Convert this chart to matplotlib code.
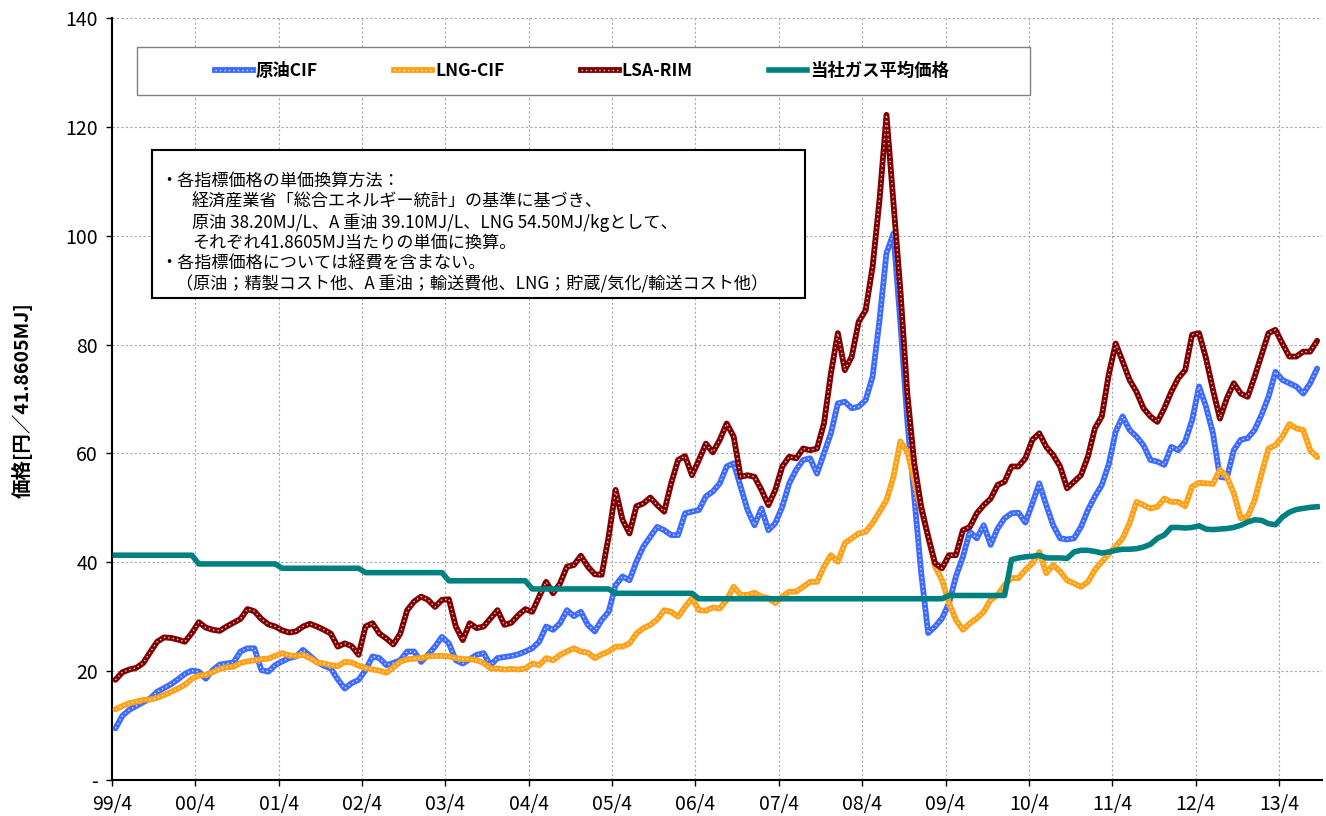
import matplotlib
matplotlib.use('Agg')
import matplotlib.pyplot as plt
from matplotlib.lines import Line2D
from matplotlib.patches import Rectangle

plt.rcParams['font.family'] = ['Noto Sans CJK JP', 'DejaVu Sans']

W, H = 1326, 816

# 月次データ 1999/4 ～ 2013/9
crude = [9.5, 11.8, 12.9, 13.6, 14.3, 15.0, 16.2, 16.9, 17.6, 18.5,
         19.5, 20.1, 19.9, 18.6, 20.2, 21.2, 21.4, 21.6, 23.6, 24.2,
         24.2, 20.2, 19.9, 21.1, 21.8, 22.4, 22.7, 23.9, 22.8, 21.7,
         21.0, 20.5, 18.5, 16.8, 17.8, 18.4, 20.2, 22.7, 22.4, 21.1,
         21.5, 22.0, 23.6, 23.6, 21.7, 23.0, 24.5, 26.3, 25.1, 22.0,
         21.4, 22.2, 23.0, 23.3, 21.1, 22.4, 22.6, 22.8, 23.1, 23.6,
         24.2, 25.4, 28.2, 27.6, 28.8, 31.2, 30.1, 30.9, 28.5, 27.3,
         29.4, 30.9, 35.8, 37.4, 36.7, 40.1, 42.9, 44.7, 46.5, 45.9,
         45.0, 45.0, 49.0, 49.3, 49.6, 52.1, 53.0, 54.5, 57.6, 58.2,
         53.9, 49.6, 46.8, 49.9, 45.9, 47.2, 50.2, 54.5, 57.0, 58.8,
         59.1, 56.3, 60.0, 63.7, 69.2, 69.5, 68.3, 68.6, 69.8, 74.1,
         84.5, 96.8, 100.4, 84.0, 66.0, 52.0, 38.0, 27.0, 28.2, 29.7,
         32.5, 37.4, 41.0, 45.6, 44.4, 46.8, 43.2, 46.2, 48.1, 49.0,
         49.1, 47.3, 50.8, 54.5, 50.5, 46.8, 44.4, 44.2, 44.4, 46.5,
         49.6, 52.1, 54.2, 58.0, 64.0, 66.8, 64.3, 63.1, 61.5, 58.8,
         58.5, 57.9, 61.2, 60.6, 62.2, 66.1, 72.3, 68.6, 63.7, 55.7,
         55.5, 60.6, 62.5, 62.8, 64.3, 67.1, 70.4, 75.0, 73.5, 72.9,
         72.3, 71.0, 72.9, 75.6]

lng = [13.0, 13.6, 14.1, 14.4, 14.7, 14.8, 15.1, 15.6, 16.2, 16.8,
       17.5, 18.6, 19.2, 19.3, 19.8, 20.4, 20.7, 20.8, 21.5, 21.8,
       22.0, 22.2, 22.3, 22.8, 23.3, 22.9, 22.8, 23.0, 22.4, 21.6,
       21.4, 21.1, 20.9, 21.7, 21.6, 21.0, 20.6, 20.3, 20.1, 19.7,
       20.7, 21.7, 22.2, 22.3, 22.4, 22.7, 22.8, 22.8, 22.7, 22.4,
       22.2, 22.2, 22.0, 21.5, 20.5, 20.5, 20.3, 20.4, 20.3, 20.5,
       21.4, 21.1, 22.4, 22.0, 23.0, 23.6, 24.2, 23.6, 23.4, 22.4,
       23.1, 23.6, 24.5, 24.5, 25.1, 26.9, 27.9, 28.5, 29.5, 31.2,
       30.9, 30.0, 31.8, 33.4, 31.2, 31.1, 31.7, 31.5, 33.1, 35.5,
       34.0, 34.0, 34.4, 33.7, 33.4, 32.5, 33.7, 34.6, 34.6, 35.5,
       36.4, 36.4, 39.2, 41.3, 40.1, 43.5, 44.4, 45.3, 45.6, 47.2,
       49.3, 51.4, 55.7, 62.2, 60.3, 55.1, 49.6, 44.7, 39.2, 36.7,
       32.5, 29.4, 27.6, 28.8, 29.7, 30.9, 33.1, 34.0, 35.8, 37.1,
       37.1, 38.6, 39.8, 41.9, 38.0, 39.5, 38.3, 36.7, 36.1, 35.5,
       36.4, 38.6, 40.1, 41.5, 42.9, 44.4, 47.2, 51.1, 50.5, 49.9,
       50.2, 51.7, 51.1, 51.1, 50.3, 53.9, 54.6, 54.5, 54.4, 57.0,
       55.7, 52.7, 48.1, 48.4, 51.4, 56.3, 60.9, 61.5, 63.1, 65.4,
       64.6, 64.3, 60.6, 59.3]

lsa = [18.4, 19.8, 20.3, 20.6, 21.5, 23.5, 25.4, 26.2, 26.1, 25.8,
       25.4, 27.0, 29.0, 28.0, 27.6, 27.4, 28.2, 28.9, 29.6, 31.4,
       31.0, 29.6, 28.6, 28.2, 27.5, 27.1, 27.3, 28.2, 28.7, 28.2,
       27.6, 26.9, 24.5, 25.1, 24.6, 23.0, 28.2, 28.8, 26.9, 26.0,
       24.9, 26.9, 31.2, 32.8, 33.7, 33.1, 31.8, 33.1, 33.2, 28.2,
       25.7, 28.8, 27.9, 28.2, 29.7, 31.2, 28.5, 28.9, 30.3, 31.4,
       30.9, 33.7, 36.4, 34.3, 36.1, 39.2, 39.5, 41.2, 39.2, 37.8,
       37.7, 44.7, 53.3, 47.8, 45.3, 50.3, 50.8, 51.9, 50.5, 49.3,
       54.5, 58.8, 59.5, 56.0, 58.8, 61.8, 60.2, 62.5, 65.5, 63.1,
       55.7, 56.0, 55.7, 53.3, 50.5, 53.3, 57.6, 59.4, 59.1, 60.9,
       60.6, 60.9, 65.5, 74.7, 82.1, 75.3, 77.8, 84.2, 86.3, 94.3,
       106.6, 122.2, 106.0, 90.0, 71.0, 58.2, 50.2, 44.7, 39.8, 38.9,
       41.3, 41.3, 45.9, 46.5, 49.0, 50.5, 51.7, 54.2, 54.8, 57.6,
       57.6, 59.1, 62.5, 63.7, 61.2, 59.7, 57.6, 53.6, 54.8, 56.0,
       59.4, 64.6, 66.8, 74.5, 80.2, 76.9, 73.5, 71.3, 68.3, 66.8,
       65.8, 68.3, 71.3, 73.8, 75.3, 81.8, 82.1, 77.5, 71.7, 66.4,
       70.1, 72.9, 71.0, 70.4, 74.1, 78.1, 82.1, 82.7, 80.2, 77.8,
       77.8, 78.7, 78.7, 80.7]

gas = [41.3, 41.3, 41.3, 41.3, 41.3, 41.3, 41.3, 41.3, 41.3, 41.3,
       41.3, 41.3, 39.7, 39.7, 39.7, 39.7, 39.7, 39.7, 39.7, 39.7,
       39.7, 39.7, 39.7, 39.7, 38.9, 38.9, 38.9, 38.9, 38.9, 38.9,
       38.9, 38.9, 38.9, 38.9, 38.9, 38.9, 38.1, 38.1, 38.1, 38.1,
       38.1, 38.1, 38.1, 38.1, 38.1, 38.1, 38.1, 38.1, 36.6, 36.6,
       36.6, 36.6, 36.6, 36.6, 36.6, 36.6, 36.6, 36.6, 36.6, 36.6,
       35.1, 35.1, 35.1, 35.1, 35.1, 35.1, 35.1, 35.1, 35.1, 35.1,
       35.1, 35.1, 34.3, 34.3, 34.3, 34.3, 34.3, 34.3, 34.3, 34.3,
       34.3, 34.3, 34.3, 34.3, 33.3, 33.3, 33.3, 33.3, 33.3, 33.3,
       33.3, 33.3, 33.3, 33.3, 33.3, 33.3, 33.3, 33.3, 33.3, 33.3,
       33.3, 33.3, 33.3, 33.3, 33.3, 33.3, 33.3, 33.3, 33.3, 33.3,
       33.3, 33.3, 33.3, 33.3, 33.3, 33.3, 33.3, 33.3, 33.3, 33.3,
       33.9, 33.9, 33.9, 33.9, 33.9, 33.9, 33.9, 33.9, 33.9, 40.5,
       40.8, 41.0, 41.1, 41.3, 40.8, 40.8, 40.8, 40.7, 41.9, 42.2,
       42.2, 42.0, 41.7, 41.9, 42.2, 42.4, 42.4, 42.5, 42.8, 43.3,
       44.4, 45.0, 46.4, 46.4, 46.3, 46.4, 46.7, 46.1, 46.0, 46.1,
       46.2, 46.4, 46.8, 47.4, 47.8, 47.7, 47.1, 46.9, 48.3, 49.2,
       49.7, 49.9, 50.1, 50.2]

xlabels = ['99/4', '00/4', '01/4', '02/4', '03/4', '04/4', '05/4', '06/4',
           '07/4', '08/4', '09/4', '10/4', '11/4', '12/4', '13/4']
ylabels = ['-', '20', '40', '60', '80', '100', '120', '140']

x = [i + 0.5 for i in range(len(crude))]

fig = plt.figure(figsize=(W / 100, H / 100), dpi=100)
ax = fig.add_axes([112 / W, 36 / H, 1210 / W, 762 / H])

def dotted(xs, ys, color, z):
    ax.plot(xs, ys, color=color, lw=4.2, solid_capstyle='round', zorder=z)
    ax.plot(xs, ys, color='white', lw=1.0, ls=(0, (1, 2.2)), alpha=0.8, zorder=z + 0.1)
    return (Line2D([], [], color=color, lw=4.2),
            Line2D([], [], color='white', lw=1.0, ls=(0, (1, 2.2)), alpha=0.8))

h1 = dotted(x, crude, '#3D6BFF', 3)
h2 = dotted(x, lng, '#FFA116', 4)
h3 = dotted(x, lsa, '#7F0000', 5)
ax.plot(x, gas, color='#008080', lw=4.0, zorder=6)
h4 = Line2D([], [], color='#008080', lw=4.0)

ax.set_xlim(0, 174.2)
ax.set_ylim(0, 140)
ax.set_xticks(range(0, 169, 12))
ax.set_xticklabels(xlabels, fontsize=14)
ax.set_yticks(range(0, 141, 20))
ax.set_yticklabels(ylabels, fontsize=14)
ax.tick_params(axis='both', direction='out', length=4, width=1, pad=6)
ax.grid(True, color='#A8A8A8', ls=(0, (2, 2)), lw=0.8)
ax.set_axisbelow(True)
for s in ['top', 'right']:
    ax.spines[s].set_visible(False)
for s in ['left', 'bottom']:
    ax.spines[s].set_linewidth(1.5)

fig.text(22 / W, 1 - 400 / H, '価格[円／41.8605MJ]', rotation=90, fontsize=14,
         fontweight='bold', ha='center', va='center')

# 凡例
fig.patches.append(Rectangle((137 / W, 1 - 95 / H), (1030 - 137) / W, 48 / H,
                             transform=fig.transFigure, facecolor='white',
                             edgecolor='#808080', lw=1, zorder=10))
leg = fig.legend([h1, h2, h3, h4], ['原油CIF', 'LNG-CIF', 'LSA-RIM', '当社ガス平均価格'],
                 loc='center left', bbox_to_anchor=(215 / W, 1 - 71 / H), ncol=4,
                 frameon=False, prop={'size': 12.5, 'weight': 'bold'},
                 handlelength=2.2, handletextpad=0.15, columnspacing=4.4,
                 borderpad=0, borderaxespad=0)
leg.set_zorder(11)

# 注記
fig.patches.append(Rectangle((152 / W, 1 - 298 / H), (805 - 152) / W, 148 / H,
                             transform=fig.transFigure, facecolor='white',
                             edgecolor='black', lw=1.5, zorder=10))
notes = [(160, '・各指標価格の単価換算方法：'),
         (192, '経済産業省「総合エネルギー統計」の基準に基づき、'),
         (192, '原油 38.20MJ/L、A 重油 39.10MJ/L、LNG 54.50MJ/kgとして、'),
         (192, 'それぞれ41.8605MJ当たりの単価に換算。'),
         (160, '・各指標価格については経費を含まない。'),
         (176, '（原油；精製コスト他、A 重油；輸送費他、LNG；貯蔵/気化/輸送コスト他）')]
for k, (px, t) in enumerate(notes):
    fig.text(px / W, 1 - (181 + 20.6 * k) / H, t, fontsize=12.3, ha='left',
             va='center', zorder=12)

fig.savefig('out.png', dpi=100)
